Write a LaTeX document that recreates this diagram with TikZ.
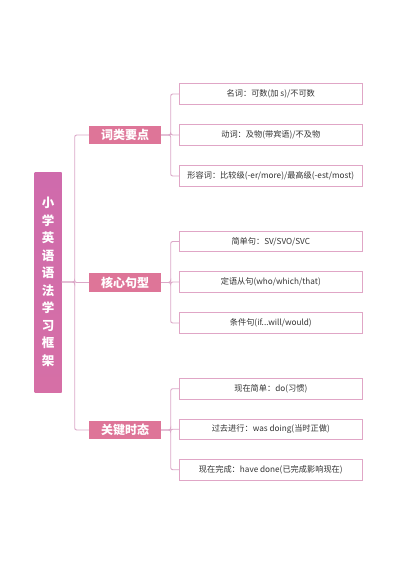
\documentclass[tikz,border=0pt]{standalone}
\usepackage{fontspec}
\setmainfont{Noto Sans CJK SC}
\definecolor{rootc}{HTML}{CF6BAC}
\definecolor{rootc2}{HTML}{D66FA6}
\definecolor{branchc}{HTML}{DE7598}
\definecolor{linec}{HTML}{DBA8C8}
\definecolor{leafc}{HTML}{E0A6C6}
\definecolor{textc}{HTML}{333333}
\begin{document}
\begin{tikzpicture}[x=1pt,y=-1pt,
  rootbox/.style={draw=none,top color=rootc,bottom color=rootc2,minimum width=27pt,minimum height=220pt,inner sep=0pt,text=white,font=\bfseries\fontsize{12.5}{17.5}\selectfont,align=center},
  branchbox/.style={fill=branchc,minimum width=72pt,minimum height=18.5pt,inner sep=0pt,text=white,font=\bfseries\fontsize{12}{14}\selectfont},
  leafbox/.style={draw=leafc,line width=0.9pt,fill=white,minimum width=183pt,minimum height=20.5pt,inner sep=0pt,text=textc,font=\fontsize{8.2}{10}\selectfont},
  conn/.style={draw=linec,line width=0.9pt,rounded corners=2pt}]
\useasboundingbox (0,0) rectangle (400,565);
\fill[white] (0,0) rectangle (400,565);
\node[rootbox] (root) at (48,282) {小\\学\\英\\语\\语\\法\\学\\习\\框\\架};
\node[branchbox] (b1) at (125,135) {词类要点};
\node[branchbox] (b2) at (125,282.5) {核心句型};
\node[branchbox] (b3) at (125,430) {关键时态};
\node[leafbox] (l11) at (270.8,94) {名词：可数(加 s)/不可数};
\node[leafbox] (l12) at (270.8,135) {动词：及物(带宾语)/不及物};
\node[leafbox] (l13) at (270.8,176) {形容词：比较级(-er/more)/最高级(-est/most)};
\node[leafbox] (l21) at (270.8,241.5) {简单句：SV/SVO/SVC};
\node[leafbox] (l22) at (270.8,282) {定语从句(who/which/that)};
\node[leafbox] (l23) at (270.8,323) {条件句(if...will/would)};
\node[leafbox] (l31) at (270.8,388.7) {现在简单：do(习惯)};
\node[leafbox] (l32) at (270.8,429.2) {过去进行：was doing(当时正做)};
\node[leafbox] (l33) at (270.8,469.7) {现在完成：have done(已完成影响现在)};
\foreach \b in {b1,b2,b3}{
  \draw[conn] (root.east) -- ++(13,0) |- (\b.west);
}
\foreach \b/\l in {b1/l11,b1/l12,b1/l13,b2/l21,b2/l22,b2/l23,b3/l31,b3/l32,b3/l33}{
  \draw[conn] (\b.east) -- ++(9.5,0) |- (\l.west);
}
\end{tikzpicture}
\end{document}
